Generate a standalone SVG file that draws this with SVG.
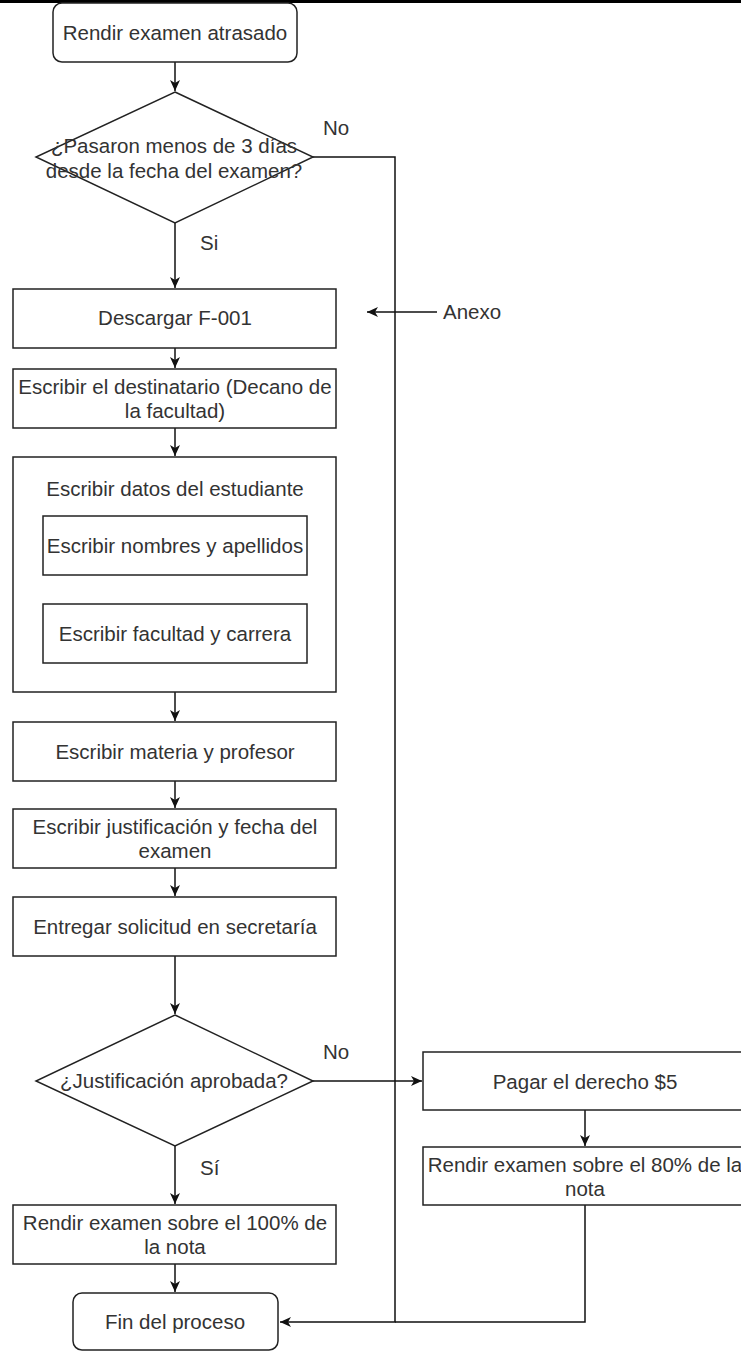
<svg xmlns="http://www.w3.org/2000/svg" width="741" height="1351" viewBox="0 0 741 1351">
<defs>
<style>
.box{fill:#fff;stroke:#222;stroke-width:1.5}
.t{font-family:"Liberation Sans",Arial,sans-serif;font-size:20.5px;fill:#333;text-anchor:middle}
.lbl{font-family:"Liberation Sans",Arial,sans-serif;font-size:20.5px;fill:#333}
.c{fill:none;stroke:#111;stroke-width:1.5}
</style>
<marker id="ah" markerUnits="userSpaceOnUse" markerWidth="12" markerHeight="12" viewBox="0 0 12 12" refX="11" refY="6" orient="auto">
<path d="M0,1 L11,6 L0,11 L3,6 Z" fill="#111"/>
</marker>
</defs>
<rect width="741" height="1351" fill="#fff"/>
<rect x="0" y="0" width="741" height="3" fill="#000"/>

<g id="connectors">
<path class="c" d="M175,62 V91" marker-end="url(#ah)"/>
<path class="c" d="M175,223 V288" marker-end="url(#ah)"/>
<path class="c" d="M313,157 H395 V1322 H280" marker-end="url(#ah)"/>
<path class="c" d="M437,312 H367" marker-end="url(#ah)"/>
<path class="c" d="M175,348 V368" marker-end="url(#ah)"/>
<path class="c" d="M175,428 V456" marker-end="url(#ah)"/>
<path class="c" d="M175,575 V603" marker-end="url(#ah)"/>
<path class="c" d="M175,692 V721" marker-end="url(#ah)"/>
<path class="c" d="M175,781 V808" marker-end="url(#ah)"/>
<path class="c" d="M175,868 V896" marker-end="url(#ah)"/>
<path class="c" d="M175,956 V1014" marker-end="url(#ah)"/>
<path class="c" d="M313,1081 H422" marker-end="url(#ah)"/>
<path class="c" d="M175,1146 V1204" marker-end="url(#ah)"/>
<path class="c" d="M585,1110 V1146" marker-end="url(#ah)"/>
<path class="c" d="M585,1205 V1322 H395"/>
<path class="c" d="M175,1264 V1292" marker-end="url(#ah)"/>
<text class="lbl" x="323" y="135">No</text>
<text class="lbl" x="200" y="250">Si</text>
<text class="lbl" x="443" y="319">Anexo</text>
<text class="lbl" x="323" y="1059">No</text>
<text class="lbl" x="200" y="1175">Sí</text>
</g>

<g id="start">
<rect class="box" x="53" y="3" width="244" height="59" rx="9"/>
<text class="t" x="175" y="40">Rendir examen atrasado</text>
</g>

<g id="decision1">
<polygon class="box" points="175,92 313,157 175,223 36,157"/>
<text class="t" x="174" y="153">¿Pasaron menos de 3 días</text>
<text class="t" x="174" y="178">desde la fecha del examen?</text>
</g>

<g id="descargar">
<rect class="box" x="13" y="289" width="323" height="59"/>
<text class="t" x="175" y="325">Descargar F-001</text>
</g>

<g id="destinatario">
<rect class="box" x="13" y="369" width="323" height="59"/>
<text class="t" x="175" y="394">Escribir el destinatario (Decano de</text>
<text class="t" x="175" y="418">la facultad)</text>
</g>

<g id="datos">
<rect class="box" x="13" y="457" width="323" height="235"/>
<text class="t" x="175" y="496">Escribir datos del estudiante</text>
</g>

<g id="nombres">
<rect class="box" x="43" y="516" width="264" height="59"/>
<text class="t" x="175" y="553">Escribir nombres y apellidos</text>
</g>

<g id="facultad">
<rect class="box" x="43" y="604" width="264" height="59"/>
<text class="t" x="175" y="641">Escribir facultad y carrera</text>
</g>

<g id="materia">
<rect class="box" x="13" y="722" width="323" height="59"/>
<text class="t" x="175" y="759">Escribir materia y profesor</text>
</g>

<g id="justificacion">
<rect class="box" x="13" y="809" width="323" height="59"/>
<text class="t" x="175" y="834">Escribir justificación y fecha del</text>
<text class="t" x="175" y="858">examen</text>
</g>

<g id="entregar">
<rect class="box" x="13" y="897" width="323" height="59"/>
<text class="t" x="175" y="934">Entregar solicitud en secretaría</text>
</g>

<g id="decision2">
<polygon class="box" points="175,1015 313,1081 175,1146 36,1081"/>
<text class="t" x="174" y="1088">¿Justificación aprobada?</text>
</g>

<g id="pagar">
<rect class="box" x="423" y="1052" width="330" height="58"/>
<text class="t" x="585" y="1089">Pagar el derecho $5</text>
</g>

<g id="rendir80">
<rect class="box" x="423" y="1147" width="330" height="58"/>
<text class="t" x="585" y="1172">Rendir examen sobre el 80% de la</text>
<text class="t" x="585" y="1196">nota</text>
</g>

<g id="rendir100">
<rect class="box" x="13" y="1205" width="323" height="59"/>
<text class="t" x="175" y="1230">Rendir examen sobre el 100% de</text>
<text class="t" x="175" y="1254">la nota</text>
</g>

<g id="fin">
<rect class="box" x="73" y="1293" width="205" height="57" rx="9"/>
<text class="t" x="175" y="1329">Fin del proceso</text>
</g>
</svg>
